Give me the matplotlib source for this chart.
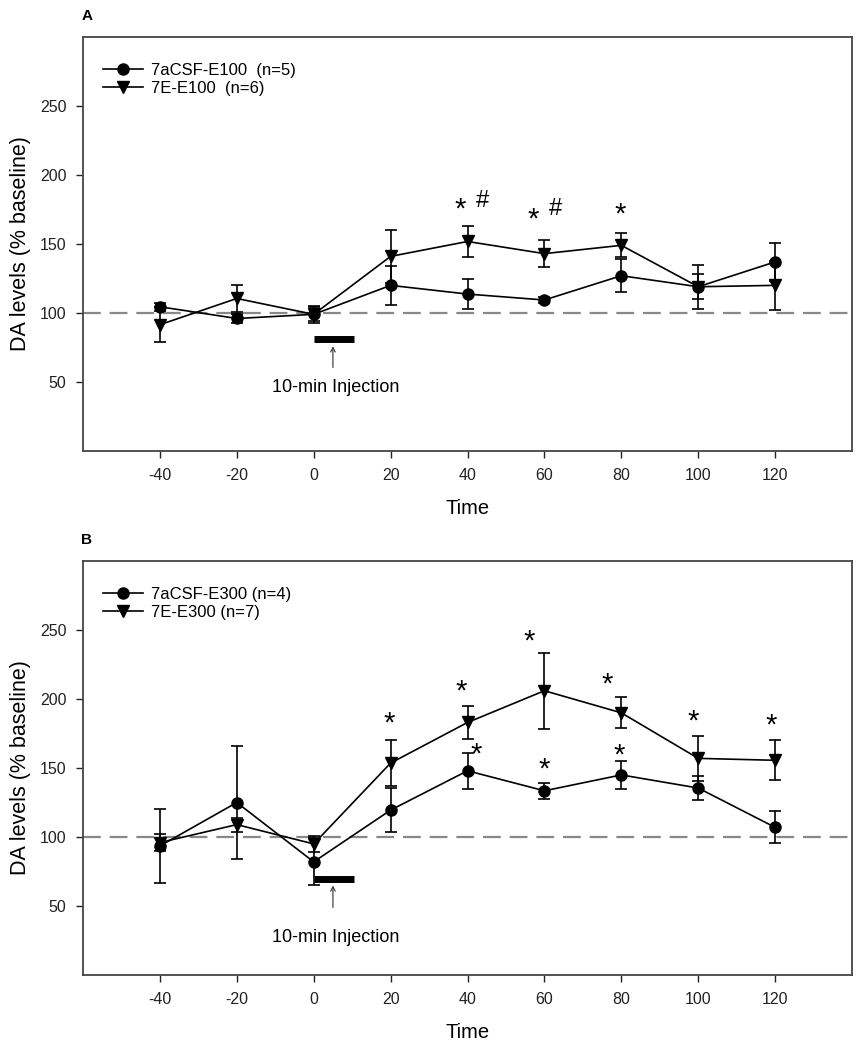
import matplotlib
matplotlib.use("Agg")
import matplotlib.pyplot as plt
from matplotlib.lines import Line2D

plt.rcParams['font.family'] = ['Liberation Sans', 'DejaVu Sans']
plt.rcParams['axes.unicode_minus'] = False

time = [-40, -20, 0, 20, 40, 60, 80, 100, 120]

# Panel A
a_csf = [104.5, 96, 99, 120, 113.7, 109.4, 127, 119, 137]
a_csf_err = [3, 3.5, 5, 14, 10.8, 2, 12, 9, 14]
a_e = [91.5, 110.5, 99, 141, 151.8, 143, 149, 119, 120]
a_e_err = [12.5, 9.5, 6, 19, 11, 9.7, 8.6, 16, 18]
a_labels = ["7aCSF-E100  (n=5)", "7E-E100  (n=6)"]
a_marks = [("*", 38.2, 178), ("#", 43.9, 181), ("*", 57.1, 171), ("#", 62.9, 175), ("*", 79.7, 174)]

# Panel B
b_csf = [93.5, 125, 82, 119.5, 148, 133.5, 145, 135.5, 107]
b_csf_err = [27, 41, 17, 15.7, 13, 6, 10, 8.7, 11.5]
b_e = [96, 109, 95, 153.6, 183, 206, 190, 157, 155.6]
b_e_err = [6, 5, 6, 16.8, 11.8, 27.6, 11.3, 16.3, 14.4]
b_labels = ["7aCSF-E300 (n=4)", "7E-E300 (n=7)"]
b_marks = [("*", 19.5, 185.5), ("*", 38.4, 208.5), ("*", 42.3, 162.8), ("*", 56, 244.6),
           ("*", 60, 152), ("*", 76.4, 213.4), ("*", 79.5, 162.3), ("*", 98.7, 187), ("*", 119, 184)]

xticks = [-40, -20, 0, 20, 40, 60, 80, 100, 120]
yticks = [50, 100, 150, 200, 250]

fig = plt.figure(figsize=(8.68, 10.5), dpi=100)
axA = fig.add_axes([0.0956, 0.5705, 0.886, 0.3943])
axB = fig.add_axes([0.0956, 0.0714, 0.886, 0.3943])


def draw(ax, csf, csf_err, e, e_err, labels, marks, bar_y, arrow_top, arrow_bot, text_y, panel):
    ax.axhline(100, color='#888888', lw=1.6, dashes=(8, 4), zorder=1)
    ax.errorbar(time, csf, yerr=csf_err, fmt='-o', color='black', ms=8, lw=1.2,
                elinewidth=1.2, capsize=4.5, capthick=1.2, zorder=3)
    ax.errorbar(time, e, yerr=e_err, fmt='-v', color='black', ms=8, lw=1.2,
                elinewidth=1.2, capsize=4.5, capthick=1.2, zorder=3)
    for s, x, y in marks:
        if s == '*':
            ax.text(x, y - 3, s, ha='center', va='center', fontsize=21)
        else:
            ax.text(x, y, s, ha='center', va='center', fontsize=17)
    ax.plot([0, 10.5], [bar_y, bar_y], color='black', lw=5, solid_capstyle='butt')
    ax.annotate('', xy=(5, arrow_top), xytext=(5, arrow_bot),
                arrowprops=dict(arrowstyle='->', color='#444444', lw=0.9, mutation_scale=8))
    ax.text(5.7, text_y, "10-min Injection", ha='center', va='center', fontsize=13)
    ax.set_xlim(-60, 140)
    ax.set_ylim(0, 300)
    ax.set_xticks(xticks)
    ax.set_yticks(yticks)
    ax.tick_params(direction='out', length=5, width=1, labelsize=11.5, colors='#222222', pad=7)
    for sp in ax.spines.values():
        sp.set_color('#444444')
        sp.set_linewidth(1.3)
    ax.set_xlabel("Time", fontsize=14.5, labelpad=12)
    ax.set_ylabel("DA levels (% baseline)", fontsize=15.5, labelpad=6)
    handles = [Line2D([], [], color='black', marker='o', ms=8, lw=1.2),
               Line2D([], [], color='black', marker='v', ms=8, lw=1.2)]
    ax.legend(handles, labels, loc='upper left', bbox_to_anchor=(0.0, 0.985), frameon=False,
              fontsize=12, handlelength=2.4, handletextpad=0.5, labelspacing=0.15,
              borderaxespad=0.8)
    ax.text(-0.002, 1.05, panel, transform=ax.transAxes, fontsize=11, fontweight='bold',
            ha='left', va='center')


draw(axA, a_csf, a_csf_err, a_e, a_e_err, a_labels, a_marks, 81.3, 78, 58.5, 46, "A")
draw(axB, b_csf, b_csf_err, b_e, b_e_err, b_labels, b_marks, 69.7, 67, 47, 27, "B")

fig.savefig("out.png", dpi=100)
